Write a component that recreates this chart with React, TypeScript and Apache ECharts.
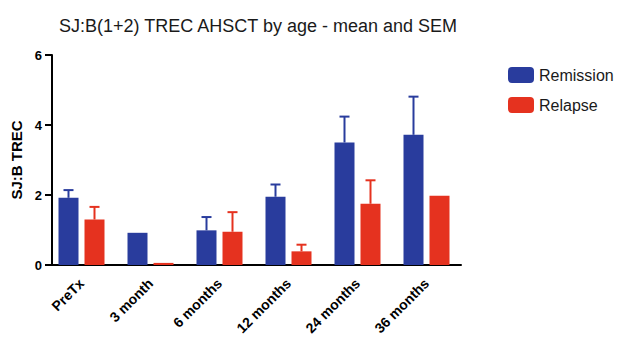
import React, { useEffect, useRef } from "react";
import * as echarts from "echarts";

const categories = ["PreTx", "3 month", "6 months", "12 months", "24 months", "36 months"];
const remissionMean = [1.92, 0.92, 0.99, 1.95, 3.5, 3.72];
const remissionSem = [0.22, 0, 0.38, 0.35, 0.74, 1.09];
const relapseMean = [1.3, 0.06, 0.95, 0.39, 1.75, 1.98];
const relapseSem = [0.36, 0, 0.56, 0.19, 0.67, 0];
const yTicks = [0, 2, 4, 6];

const BLUE = "#293c9d";
const RED = "#e5321f";
const FONT = "'Liberation Sans', Arial, Helvetica, sans-serif";

function errorSeries(name: string, mean: number[], sem: number[], color: string, offset: number) {
  const data = categories
    .map((_, i) => [i, mean[i], mean[i] + sem[i]])
    .filter((d, i) => sem[i] > 0);
  return {
    type: "custom",
    name: name + " SEM",
    data,
    encode: { x: 0, y: [1, 2] },
    z: 3,
    silent: true,
    renderItem: (params: any, api: any) => {
      const idx = api.value(0);
      const base = api.coord([idx, api.value(1)]);
      const top = api.coord([idx, api.value(2)]);
      const x = base[0] + offset;
      const style = { stroke: color, lineWidth: 2 };
      return {
        type: "group",
        children: [
          { type: "line", shape: { x1: x, y1: base[1], x2: x, y2: top[1] }, style },
          { type: "line", shape: { x1: x - 5, y1: top[1], x2: x + 5, y2: top[1] }, style },
        ],
      };
    },
  };
}

export default function App() {
  const ref = useRef<HTMLDivElement>(null);
  useEffect(() => {
    if (!ref.current) return;
    const chart = echarts.init(ref.current, null, { renderer: "svg" });
    chart.setOption({
      animation: false,
      backgroundColor: "#ffffff",
      textStyle: { fontFamily: FONT },
      title: {
        text: "SJ:B(1+2) TREC AHSCT by age - mean and SEM",
        left: 54,
        top: 12,
        textStyle: { fontSize: 18, fontWeight: "normal", color: "#1a1a1a", fontFamily: FONT },
      },
      legend: {
        data: ["Remission", "Relapse"],
        orient: "vertical",
        left: 503,
        top: 62,
        itemWidth: 26,
        itemHeight: 16,
        itemGap: 14,
        icon: "roundRect",
        textStyle: { fontSize: 16, color: "#1a1a1a", fontFamily: FONT },
      },
      grid: { left: 47, top: 55, width: 414, height: 210, containLabel: false },
      xAxis: {
        type: "category",
        data: categories,
        axisLine: { lineStyle: { color: "#000", width: 2 } },
        axisTick: { alignWithLabel: true, length: 6, lineStyle: { color: "#000", width: 2 } },
        axisLabel: {
          rotate: 45,
          margin: 16,
          fontSize: 14,
          fontWeight: "bold",
          color: "#000",
          fontFamily: FONT,
        },
      },
      yAxis: {
        type: "value",
        min: 0,
        max: 6,
        interval: 2,
        offset: -5,
        name: "SJ:B TREC",
        nameLocation: "middle",
        nameGap: 26,
        nameTextStyle: { fontSize: 15, fontWeight: "bold", color: "#000", fontFamily: FONT },
        splitLine: { show: false },
        axisLine: { show: true, lineStyle: { color: "#000", width: 2 } },
        axisTick: { show: true, length: 7, lineStyle: { color: "#000", width: 2 } },
        axisLabel: {
          fontSize: 13,
          fontWeight: "bold",
          color: "#000",
          margin: 10,
          fontFamily: FONT,
          formatter: (v: number) => (yTicks.includes(v) ? String(v) : ""),
        },
      },
      series: [
        {
          type: "bar",
          name: "Remission",
          data: remissionMean,
          barWidth: 20,
          barGap: "30%",
          itemStyle: { color: BLUE },
        },
        {
          type: "bar",
          name: "Relapse",
          data: relapseMean,
          barWidth: 20,
          barGap: "30%",
          itemStyle: { color: RED },
        },
        errorSeries("Remission", remissionMean, remissionSem, BLUE, -13),
        errorSeries("Relapse", relapseMean, relapseSem, RED, 13),
      ],
    });
    return () => chart.dispose();
  }, []);
  return (
    <div
      ref={ref}
      style={{ position: "absolute", left: 0, top: 0, width: 619, height: 338 }}
    />
  );
}
